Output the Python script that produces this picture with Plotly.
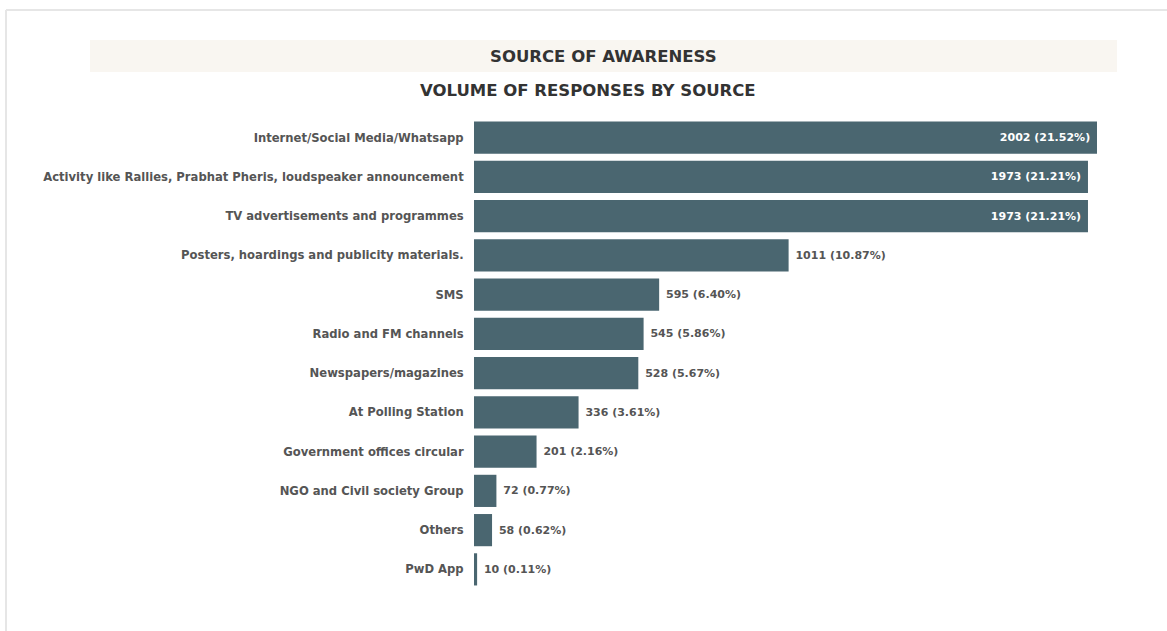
import plotly.graph_objects as go

categories = [
    "Internet/Social Media/Whatsapp",
    "Activity like Rallies, Prabhat Pheris, loudspeaker announcement",
    "TV advertisements and programmes",
    "Posters, hoardings and publicity materials.",
    "SMS",
    "Radio and FM channels",
    "Newspapers/magazines",
    "At Polling Station",
    "Government offices circular",
    "NGO and Civil society Group",
    "Others",
    "PwD App",
]
values = [2002, 1973, 1973, 1011, 595, 545, 528, 336, 201, 72, 58, 10]
percents = ["21.52%", "21.21%", "21.21%", "10.87%", "6.40%", "5.86%", "5.67%",
            "3.61%", "2.16%", "0.77%", "0.62%", "0.11%"]

W, H = 1167, 631
L, R, T, B = 474, 70, 118, 42
pw, ph = W - L - R, H - T - B

def px_x(x):
    return (x - L) / pw

def px_y(y):
    return (H - B - y) / ph

positions = ["inside" if v > 1500 else "outside" for v in values]
labels = [(f"{v} ({p})&nbsp;" if pos == "inside" else f"&nbsp;{v} ({p})")
          for v, p, pos in zip(values, percents, positions)]

fig = go.Figure(go.Bar(
    x=values, y=categories, orientation="h",
    marker=dict(color="#4a6670", line=dict(width=0)),
    text=labels, textposition=positions, insidetextanchor="end",
    insidetextfont=dict(color="white", size=11, family="DejaVu Sans", weight="bold"),
    outsidetextfont=dict(color="#555555", size=11, family="DejaVu Sans", weight="bold"),
    cliponaxis=False, hoverinfo="skip",
))

fig.update_layout(
    width=W, height=H,
    margin=dict(l=L, r=R, t=T, b=B),
    paper_bgcolor="white", plot_bgcolor="white",
    bargap=0.18, showlegend=False,
    xaxis=dict(range=[0, 2002], visible=False),
    yaxis=dict(autorange="reversed", showgrid=False, zeroline=False, showline=False,
               ticks="outside", ticklen=7, tickcolor="rgba(0,0,0,0)",
               tickfont=dict(family="DejaVu Sans", size=11.6, color="#555555", weight="bold")),
    shapes=[
        dict(type="rect", xref="paper", yref="paper",
             x0=px_x(90), x1=px_x(1117), y0=px_y(72), y1=px_y(40),
             fillcolor="#f9f6f1", line=dict(width=0), layer="below"),
        dict(type="line", xref="paper", yref="paper",
             x0=px_x(6), x1=px_x(1167), y0=px_y(10), y1=px_y(10),
             line=dict(color="#e6e6e6", width=2)),
        dict(type="line", xref="paper", yref="paper",
             x0=px_x(6), x1=px_x(6), y0=px_y(10), y1=px_y(631),
             line=dict(color="#e6e6e6", width=2)),
    ],
    annotations=[
        dict(text="<b>SOURCE OF AWARENESS</b>", xref="paper", yref="paper",
             x=px_x(603.5), y=px_y(56), showarrow=False, xanchor="center", yanchor="middle",
             font=dict(family="DejaVu Sans", size=16.5, color="#333333")),
        dict(text="<b>VOLUME OF RESPONSES BY SOURCE</b>", xref="paper", yref="paper",
             x=px_x(588), y=px_y(90), showarrow=False, xanchor="center", yanchor="middle",
             font=dict(family="DejaVu Sans", size=16.5, color="#333333")),
    ],
)

fig.write_html("out.html")
